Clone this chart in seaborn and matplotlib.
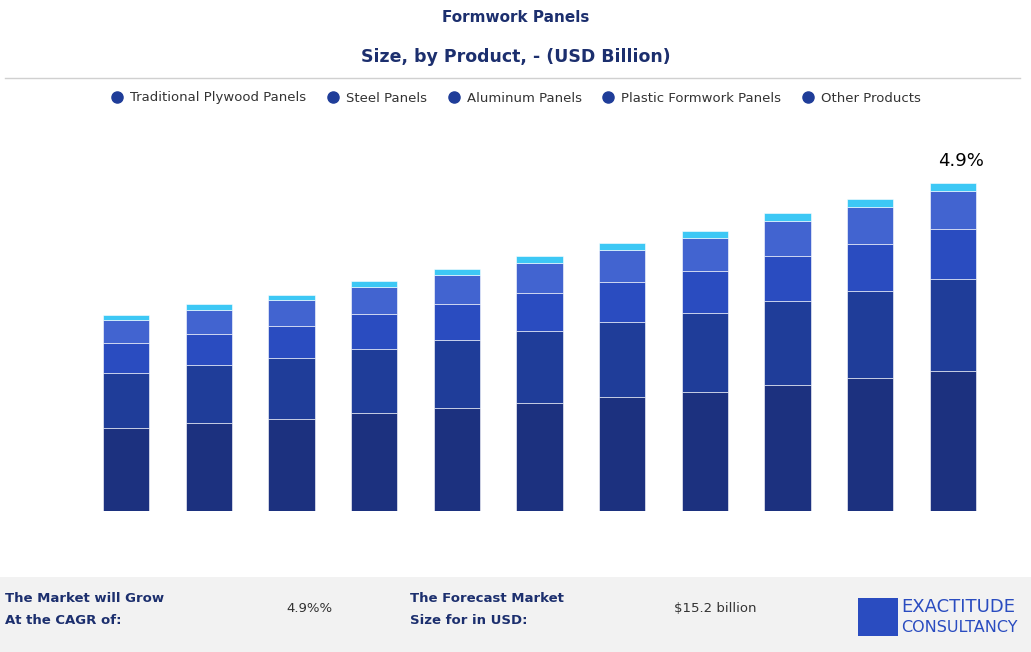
import matplotlib
matplotlib.use("Agg")
import matplotlib.pyplot as plt
import seaborn as sns
import numpy as np
from matplotlib.patches import Rectangle
from matplotlib.lines import Line2D

years = [str(y) for y in range(2024, 2035)]
plywood = [3.85,4.08,4.26,4.54,4.77,5.00,5.28,5.51,5.84,6.16,6.49]
steel = [2.55,2.69,2.83,2.97,3.15,3.34,3.48,3.66,3.89,4.03,4.26]
aluminum = [1.39,1.44,1.48,1.62,1.67,1.76,1.85,1.95,2.09,2.18,2.32]
plastic = [1.07,1.11,1.20,1.25,1.34,1.39,1.48,1.53,1.62,1.71,1.76]
other = [0.23,0.28,0.23,0.28,0.28,0.32,0.32,0.32,0.37,0.37,0.37]
series_names = ["Traditional Plywood Panels","Steel Panels","Aluminum Panels","Plastic Formwork Panels","Other Products"]
cagr_label = "4.9%"
colors = ["#1c317f","#1f3d99","#2a4cc0","#4264d0","#3dc8f5"]

W, H = 1031, 652
fig = plt.figure(figsize=(W/100, H/100), dpi=100)
fig.patch.set_facecolor("white")
def fx(x): return x/W
def fy(y): return 1-y/H

ax = fig.add_axes([fx(85), fy(511), fx(994)-fx(85), fy(140)-fy(511)])
cum = np.zeros(len(years))
for name, vals, c in zip(series_names, [plywood, steel, aluminum, plastic, other], colors):
    sns.barplot(x=years, y=vals, bottom=cum, color=c, width=0.56, ax=ax,
                edgecolor="white", linewidth=0.4, saturation=1)
    cum = cum + np.array(vals)
ax.set_ylim(0, 17.19)
ax.set_xlim(-0.5, len(years)-0.5)
ax.axis("off")
ax.text(len(years)-1+0.1, cum[-1]+0.6, cagr_label, ha="center", va="bottom", fontsize=13, color="black")

navy = "#1c2f6e"
fig.text(0.5, fy(17), "Formwork Panels", ha="center", va="center", fontsize=11, fontweight="bold", color=navy)
fig.text(0.5, fy(57), "Size, by Product, - (USD Billion)", ha="center", va="center", fontsize=12.5, fontweight="bold", color=navy)
fig.add_artist(Line2D([fx(5), fx(1020)], [fy(78), fy(78)], color="#d0d0d0", lw=1))

handles = [Line2D([0],[0], marker="o", linestyle="", markerfacecolor="#1f3d99", markeredgecolor="#1f3d99", markersize=8) for _ in series_names]
fig.legend(handles, series_names, loc="center", bbox_to_anchor=(0.497, fy(98)), ncol=5, frameon=False,
           fontsize=9.5, handletextpad=0.0, columnspacing=1.0, labelcolor="#333333")

fig.add_artist(Rectangle((0, 0), 1, fy(577), transform=fig.transFigure, facecolor="#f2f2f2", edgecolor="none"))
fig.text(fx(5), fy(598), "The Market will Grow", fontsize=9.5, fontweight="bold", color=navy, va="center")
fig.text(fx(5), fy(620), "At the CAGR of:", fontsize=9.5, fontweight="bold", color=navy, va="center")
fig.text(fx(309), fy(609), "4.9%%", fontsize=9.5, color="#333333", va="center", ha="center")
fig.text(fx(410), fy(598), "The Forecast Market", fontsize=9.5, fontweight="bold", color=navy, va="center")
fig.text(fx(410), fy(620), "Size for in USD:", fontsize=9.5, fontweight="bold", color=navy, va="center")
fig.text(fx(715), fy(609), "$15.2 billion", fontsize=9.5, color="#333333", va="center", ha="center")
fig.add_artist(Rectangle((fx(858), fy(636)), fx(40), fy(598)-fy(636), transform=fig.transFigure, facecolor="#2a4cc0", edgecolor="none"))
fig.text(fx(901), fy(607), "EXACTITUDE", fontsize=13, color="#2a4cc0", va="center")
fig.text(fx(901), fy(628), "CONSULTANCY", fontsize=11.5, color="#2a4cc0", va="center")

fig.savefig("out.png", dpi=100)
